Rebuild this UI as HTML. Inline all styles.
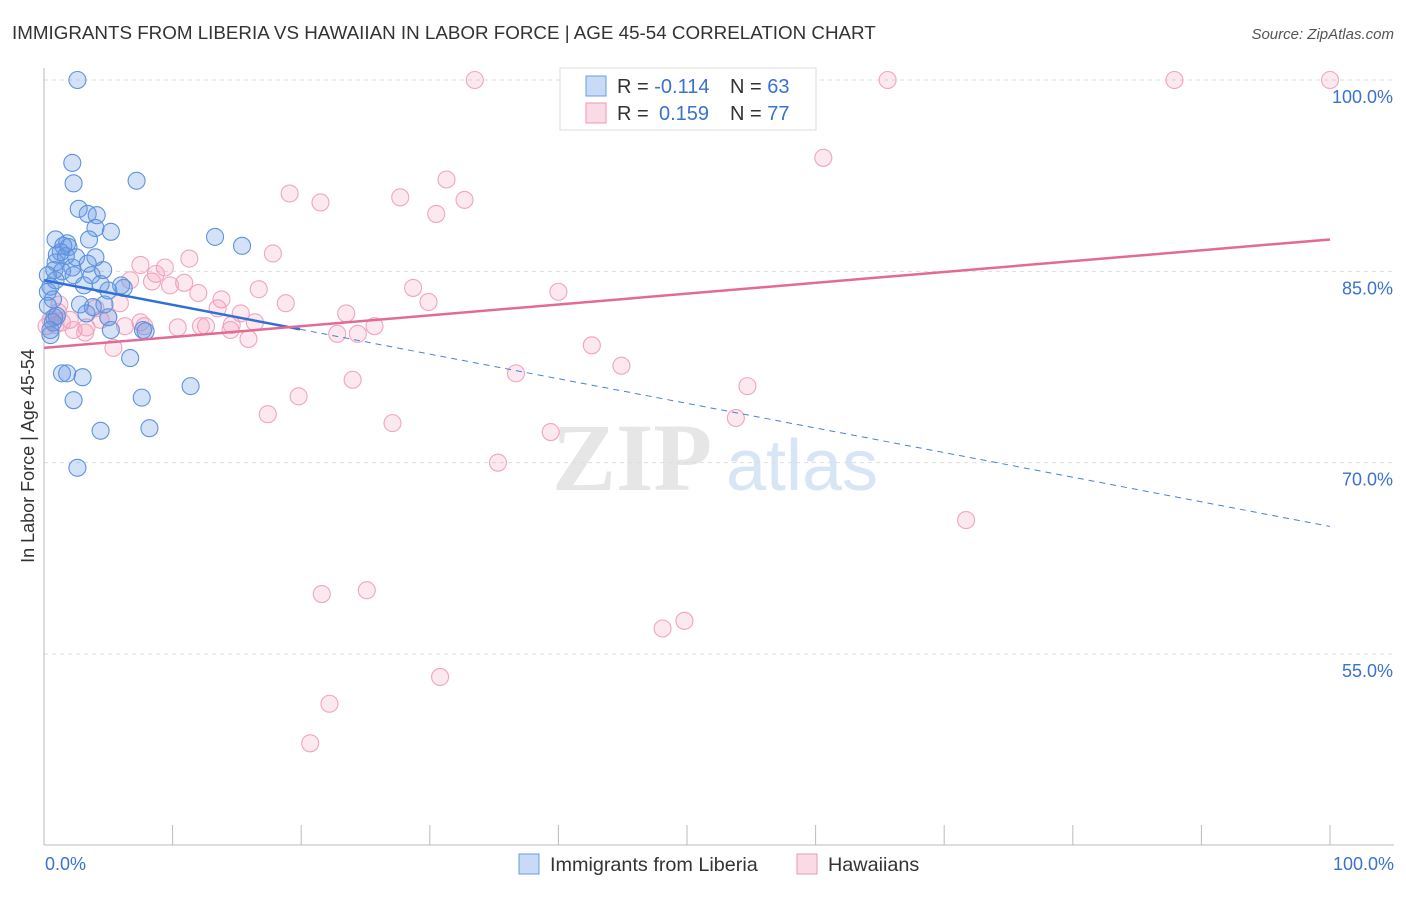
<!DOCTYPE html>
<html><head><meta charset="utf-8"><style>
body{margin:0;background:#fff;font-family:"Liberation Sans",sans-serif;}
svg text{font-family:"Liberation Sans",sans-serif;}
</style></head><body>
<svg id="chart" width="1406" height="892" viewBox="0 0 1406 892">
<text x="12" y="39" font-size="18.8" fill="#333">IMMIGRANTS FROM LIBERIA VS HAWAIIAN IN LABOR FORCE | AGE 45-54 CORRELATION CHART</text>
<text x="1394" y="39" font-size="15" fill="#555" font-style="italic" text-anchor="end">Source: ZipAtlas.com</text>
<text x="632" y="490" font-size="96" fill="#e6e6e6" font-weight="bold" text-anchor="middle" style="font-family:'Liberation Serif',serif">ZIP</text>
<text x="802" y="490" font-size="72" fill="#d8e5f5" text-anchor="middle">atlas</text>
<g id="grid"></g><g id="axes"></g><g id="marks"></g>
<text x="34" y="456" font-size="18" fill="#333" text-anchor="middle" transform="rotate(-90 34 456)">In Labor Force | Age 45-54</text>
<g>
<rect x="560" y="68" width="256" height="62" fill="#fff" stroke="#ddd"/>
<rect x="586" y="76" width="20" height="20" fill="rgba(100,150,230,0.35)" stroke="#6b9be0"/>
<rect x="586" y="103" width="20" height="20" fill="rgba(240,150,180,0.35)" stroke="#ec9ab5"/>
<text x="617" y="93" font-size="20" fill="#333">R = <tspan fill="#3a72d0">-0.114</tspan><tspan x="730">N = </tspan><tspan fill="#3a72d0">63</tspan></text>
<text x="617" y="120" font-size="20" fill="#333">R = <tspan x="659" fill="#3a72d0">0.159</tspan><tspan x="730">N = </tspan><tspan fill="#3a72d0">77</tspan></text>
</g>
<g>
<rect x="519" y="854" width="20" height="20" fill="rgba(100,150,230,0.35)" stroke="#6b9be0"/>
<text x="550" y="871" font-size="19.8" fill="#333">Immigrants from Liberia</text>
<rect x="797" y="854" width="20" height="20" fill="rgba(240,150,180,0.35)" stroke="#ec9ab5"/>
<text x="828" y="871" font-size="19.8" fill="#333">Hawaiians</text>
</g>
</svg>
<script>
const yTicks=[100,85,70,55];
const yTickLabels=["100.0%","85.0%","70.0%","55.0%"];
const xTickLabels=["0.0%","100.0%"];
const liberiaX=[2.6,2.2,2.3,7.2,2.7,3.4,4.1,5.2,4.0,0.9,1.8,1.9,3.5,13.3,15.4,1.0,1.7,1.3,2.5,4.0,0.8,2.2,1.4,3.4,0.3,0.5,3.1,5.0,6.2,0.3,2.8,3.8,0.7,0.8,3.3,5.0,5.2,7.9,7.7,0.7,0.5,6.7,1.4,1.8,3.0,11.4,2.3,7.6,4.4,8.2,2.6,0.5,1.0,2.3,4.7,4.4,0.3,0.9,1.5,3.7,6.0,0.9,4.6];
const liberiaY=[100,93.5,91.9,92.1,89.9,89.5,89.4,88.1,88.4,87.5,87.2,86.9,87.5,87.7,87.0,86.3,86.2,86.5,86.1,86.1,85.1,85.3,85.0,85.6,84.7,83.8,83.9,83.5,83.7,83.4,82.4,82.2,82.8,81.4,81.7,81.4,80.4,80.3,80.4,81.0,80.0,78.2,77.0,77.0,76.7,76.0,74.9,75.1,72.5,72.7,69.6,80.4,81.5,84.7,82.4,84.0,82.3,85.7,87.0,84.7,83.9,84.3,85.1];
const hawaiianX=[33.5,65.6,87.9,100,60.6,19.1,21.5,27.7,31.3,32.7,30.5,17.8,11.3,7.5,9.4,8.7,6.7,8.4,10.9,12.0,13.8,16.7,18.8,28.7,40.0,29.9,23.5,25.7,24.4,22.8,15.3,16.4,13.5,14.5,15.9,12.6,10.4,12.2,7.8,6.3,5.0,4.0,1.2,2.0,1.4,0.9,2.3,3.3,5.4,42.6,44.9,54.7,36.7,24.0,19.8,17.4,27.1,39.4,53.8,35.3,71.7,21.6,25.1,48.1,49.8,30.8,22.2,20.7,0.5,1.1,5.9,14.6,7.5,9.8,3.2,0.2,4.4];
const hawaiianY=[100,100,100,100,93.9,91.1,90.4,90.8,92.2,90.6,89.5,86.4,86.0,85.5,85.3,84.8,84.3,84.2,84.1,83.3,82.8,83.6,82.5,83.7,83.4,82.6,81.7,80.7,80.1,80.1,81.7,81.0,82.1,80.4,79.7,80.7,80.6,80.7,80.7,80.7,81.4,82.1,82.4,81.2,81.0,80.8,80.4,80.6,79.0,79.2,77.6,76.0,77.0,76.5,75.2,73.8,73.1,72.4,73.5,70.0,65.5,59.7,60.0,57.0,57.6,53.2,51.1,48.0,81.2,81.8,82.5,80.8,81.0,83.9,80.2,80.7,81.2];
const liberiaTrend=[84.3,65.0];
const liberiaSolidEnd=19.9;
const hawaiianTrend=[79.0,87.5];

const NS="http://www.w3.org/2000/svg";
const X0=44,X1=1330,Y100=80,Y55=654;
const sx=v=>X0+(X1-X0)*v/100;
const sy=v=>Y100+(100-v)*(Y55-Y100)/45;
function mk(tag,attrs,parent){const e=document.createElementNS(NS,tag);for(const k in attrs)e.setAttribute(k,attrs[k]);parent.appendChild(e);return e;}
const grid=document.getElementById('grid'),axes=document.getElementById('axes'),marks=document.getElementById('marks');
yTicks.forEach((t,i)=>{
 const l=mk('line',{x1:X0,x2:1394,y1:sy(t),y2:sy(t),stroke:'#ddd','stroke-dasharray':'4,4'},grid);
 
 
 const tx=mk('text',{x:1393,y:sy(t)+23,'font-size':18,fill:'#3a72d0','text-anchor':'end'},axes);
 tx.textContent=yTickLabels[i];
 
 
});
const ax=mk('line',{x1:X0,x2:X0,y1:68,y2:845,stroke:'#bbb'},axes);


const bx=mk('line',{x1:X0,x2:1394,y1:845,y2:845,stroke:'#bbb'},axes);


for(let k=0;k<=10;k++){
 const t=mk('line',{x1:sx(k*10),x2:sx(k*10),y1:825,y2:845,stroke:'#bbb'},axes);
 
 
}
[[0,'start',45],[100,'end',1394]].forEach(([v,a,x],i)=>{
 const t=mk('text',{x:x,y:870,'font-size':18,fill:'#3a72d0','text-anchor':a},axes);
 t.textContent=xTickLabels[i];
 
 
});
function pts(xs,ys,fill,stroke,name){
 xs.forEach((x,i)=>{
  const c=mk('circle',{cx:sx(x),cy:sy(ys[i]),r:8.5,fill:fill,stroke:stroke,'stroke-width':1.1},marks);
  
  
 });
}
pts(hawaiianX,hawaiianY,'rgba(240,150,180,0.22)','#f0a5bf','hawaiian-point');
pts(liberiaX,liberiaY,'rgba(100,150,230,0.28)','#5e93dc','liberia-point');
const ly=v=>liberiaTrend[0]+(liberiaTrend[1]-liberiaTrend[0])*v/100;
const l1=mk('line',{x1:sx(0),y1:sy(ly(0)),x2:sx(liberiaSolidEnd),y2:sy(ly(liberiaSolidEnd)),stroke:'#2f6fd6','stroke-width':2.5},marks);


const l2=mk('line',{x1:sx(liberiaSolidEnd),y1:sy(ly(liberiaSolidEnd)),x2:sx(100),y2:sy(ly(100)),stroke:'#4a80d8','stroke-width':1,'stroke-dasharray':'6,5'},marks);


const l3=mk('line',{x1:sx(0),y1:sy(hawaiianTrend[0]),x2:sx(100),y2:sy(hawaiianTrend[1]),stroke:'#e36a95','stroke-width':2.5},marks);


</script>
</body></html>
